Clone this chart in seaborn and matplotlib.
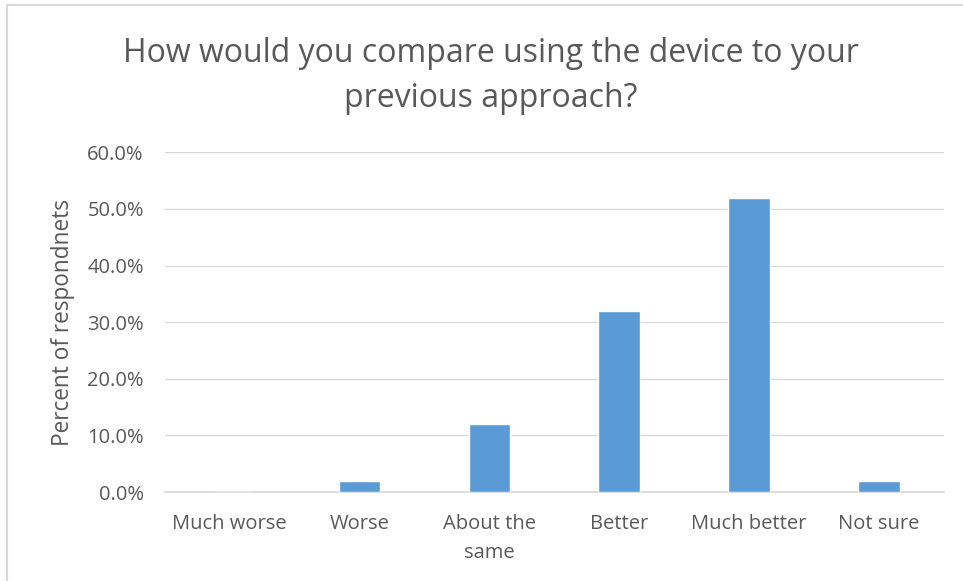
import matplotlib
matplotlib.use("Agg")
import matplotlib.pyplot as plt
import seaborn as sns
import pandas as pd
from matplotlib.patches import Rectangle

categories = ["Much worse", "Worse", "About the\nsame", "Better", "Much better", "Not sure"]
percents = [0.0, 2.0, 12.0, 32.0, 52.0, 2.0]
yticks = [0, 10, 20, 30, 40, 50, 60]

sns.set_theme(style="white")
plt.rcParams['font.family'] = ['Open Sans', 'DejaVu Sans']

text_col = "#595959"
df = pd.DataFrame({"category": categories, "percent": percents})

fig = plt.figure(figsize=(9.63, 5.81), dpi=100)
ax = fig.add_axes([0.171, 0.153, 0.809, 0.585])

sns.barplot(data=df, x="category", y="percent", color="#5b9bd5", width=0.32,
            saturation=1, ax=ax, zorder=3)

ax.set_ylim(0, 60)
ax.set_yticks(yticks)
ax.set_yticklabels([f"{v:.1f}%" for v in yticks], color=text_col, fontsize=14.5)
ax.set_xticks(range(len(categories)))
ax.set_xticklabels(categories, color=text_col, fontsize=14.5, linespacing=1.55)
ax.tick_params(axis="y", length=0, pad=15)
ax.tick_params(axis="x", length=0, pad=16)
ax.grid(axis="y", color="#d9d9d9", linewidth=1, zorder=0)
for s in ["top", "right", "left"]:
    ax.spines[s].set_visible(False)
ax.spines["bottom"].set_color("#d9d9d9")
ax.set_xlabel("")
ax.set_ylabel("Percent of respondnets", color=text_col, fontsize=16.3, labelpad=9)

fig.text(0.51, 0.869, "How would you compare using the device to your\nprevious approach?",
         ha="center", va="center", fontsize=23, color=text_col, linespacing=1.5)

# outer chart border
fig.patches.append(Rectangle((7 / 963, -0.1), 1.2, 1 - 5 / 581 + 0.1, transform=fig.transFigure,
                             fill=False, edgecolor="#d9d9d9", linewidth=1.5))

fig.savefig("out.png", dpi=100)
